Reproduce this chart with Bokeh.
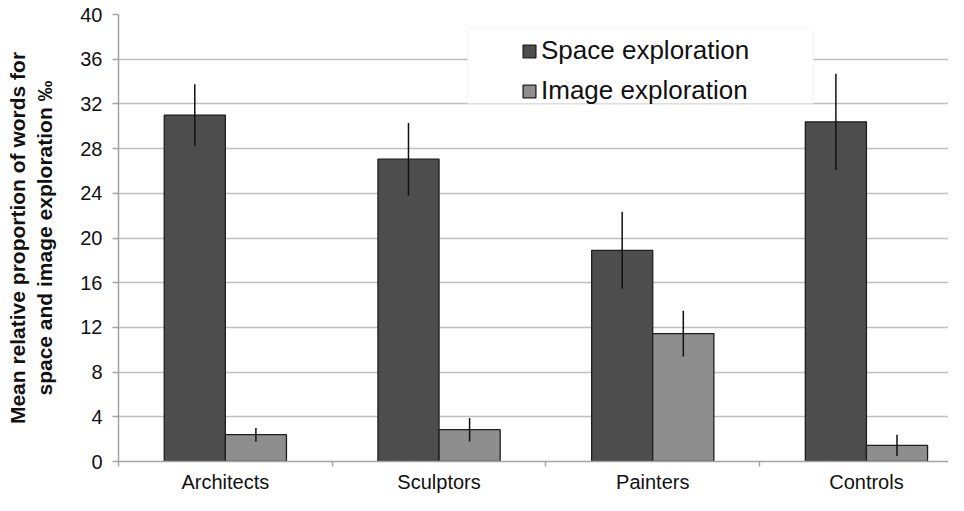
from bokeh.plotting import figure
from bokeh.models import (ColumnDataSource, Range1d, FixedTicker, Legend, LegendItem,
                          BoxAnnotation)
from bokeh.transform import dodge
from bokeh.embed import file_html
from bokeh.resources import INLINE

# ---- data ----
categories = ["Architects", "Sculptors", "Painters", "Controls"]
space_mean = [31.0, 27.05, 18.9, 30.4]
space_err = [2.75, 3.25, 3.45, 4.3]
image_mean = [2.4, 2.85, 11.45, 1.45]
image_err = [0.6, 1.05, 2.05, 0.95]
series_names = ["Space exploration", "Image exploration"]
y_ticks = [0, 4, 8, 12, 16, 20, 24, 28, 32, 36, 40]
y_title_lines = ["Mean relative proportion of words for", "space and image exploration \u2030"]

FONT = "Liberation Sans"
SPACE_COLOR = "#4d4d4d"
IMAGE_COLOR = "#8e8e8e"
EDGE = "#1e1e1e"
AXIS_GRAY = "#a3a3a3"
GRID_GRAY = "#bfbfbf"

pos = [i + 0.5 for i in range(len(categories))]
src = ColumnDataSource(dict(
    x=pos,
    space=space_mean,
    space_lo=[m - e for m, e in zip(space_mean, space_err)],
    space_hi=[m + e for m, e in zip(space_mean, space_err)],
    image=image_mean,
    image_lo=[m - e for m, e in zip(image_mean, image_err)],
    image_hi=[m + e for m, e in zip(image_mean, image_err)],
))

W, H = 948, 495
p = figure(width=W, height=H, x_range=Range1d(0, 3.884), y_range=Range1d(0, 40),
           output_backend="svg", toolbar_location=None,
           min_border_left=118, min_border_right=0, min_border_top=14, min_border_bottom=33)
p.outline_line_color = None
p.background_fill_color = "white"

off = 0.143
bw = 0.286
r_space = p.vbar(x=dodge("x", -off, range=p.x_range), top="space", width=bw, bottom=0,
                 source=src, fill_color=SPACE_COLOR, line_color=EDGE, line_width=1.3)
r_image = p.vbar(x=dodge("x", off, range=p.x_range), top="image", width=bw, bottom=0,
                 source=src, fill_color=IMAGE_COLOR, line_color=EDGE, line_width=1.3)
p.segment(x0=dodge("x", -off, range=p.x_range), x1=dodge("x", -off, range=p.x_range),
          y0="space_lo", y1="space_hi", source=src, line_color="#111111", line_width=1.5)
p.segment(x0=dodge("x", off, range=p.x_range), x1=dodge("x", off, range=p.x_range),
          y0="image_lo", y1="image_hi", source=src, line_color="#111111", line_width=1.5)

# legend box
box = BoxAnnotation(left=349, right=695, bottom=358, top=434,
                    left_units="screen", right_units="screen",
                    bottom_units="screen", top_units="screen",
                    fill_color="white", fill_alpha=1.0,
                    line_color="#e0e0e0", line_width=1)
p.add_layout(box)

legend = Legend(items=[LegendItem(label=series_names[0], renderers=[r_space]),
                       LegendItem(label=series_names[1], renderers=[r_image])],
                location=(403, 355), padding=0, margin=0, spacing=9,
                label_height=26, glyph_height=16, glyph_width=16, label_standoff=4,
                label_text_font_size="26px", label_text_font=FONT,
                label_text_color="#111111",
                background_fill_alpha=0, border_line_color=None)
p.add_layout(legend)

# y axis
ya = p.yaxis[0]
ya.ticker = FixedTicker(ticks=y_ticks)
ya.major_label_text_font = FONT
ya.major_label_text_font_size = "20px"
ya.major_label_text_color = "#111111"
ya.major_tick_out = 6
ya.major_tick_in = 0
ya.minor_tick_out = 0
ya.minor_tick_in = 0
ya.axis_line_color = AXIS_GRAY
ya.axis_line_width = 1.5
ya.major_tick_line_color = AXIS_GRAY
ya.major_tick_line_width = 1.5
ya.major_label_standoff = 10
ya.axis_label = "\n".join(y_title_lines)
ya.axis_label_text_font = FONT
ya.axis_label_text_font_size = "21px"
ya.axis_label_text_font_style = "bold"
ya.axis_label_text_color = "#111111"
ya.axis_label_standoff = 21

# x axis
xa = p.xaxis[0]
xa.ticker = FixedTicker(ticks=pos, minor_ticks=[0, 1, 2, 3, 4])
xa.major_label_overrides = {x: c for x, c in zip(pos, categories)}
xa.major_label_text_font = FONT
xa.major_label_text_font_size = "20px"
xa.major_label_text_color = "#111111"
xa.major_tick_out = 0
xa.major_tick_in = 0
xa.minor_tick_out = 5
xa.minor_tick_in = 0
xa.minor_tick_line_color = AXIS_GRAY
xa.minor_tick_line_width = 1.5
xa.axis_line_color = AXIS_GRAY
xa.axis_line_width = 1.5
xa.major_label_standoff = 4

p.xgrid.visible = False
p.ygrid.ticker = FixedTicker(ticks=y_ticks)
p.ygrid.grid_line_color = GRID_GRAY
p.ygrid.grid_line_width = 1.5

open("out.html", "w").write(file_html(p, INLINE))
